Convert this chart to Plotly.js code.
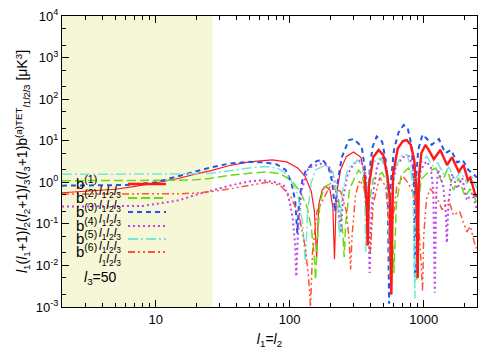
<!DOCTYPE html>
<html>
<head>
<meta charset="utf-8">
<script src="https://cdn.plot.ly/plotly-3.0.1.min.js"></script>
<style>html,body{margin:0;padding:0;background:#fff}</style>
</head>
<body>
<div id="chart" style="width:500px;height:350px"></div>
<script>
// values: l1=l2 and |l1(l1+1)l2(l2+1)l3(l3+1) b| in uK^3
const l_b1 = [2, 3, 5, 7, 10, 15, 20, 26, 35, 50, 74, 95, 115, 131, 145, 153, 159, 165, 175, 186, 200, 210, 216, 223, 240, 265, 300, 340, 362, 376, 382, 390, 420, 461, 500, 535, 560, 574, 590, 640, 700, 747, 800, 850, 885, 902, 920, 960, 1030, 1090, 1190, 1331, 1494, 1627, 1824, 1983, 2137, 2230, 2430, 2500];
const v_b1 = [0.56, 0.6, 0.68, 0.8, 0.96, 1.25, 1.6, 1.9, 2.5, 3.1, 3.45, 3.1, 2.2, 1.36, 0.6, 0.2, 0.015, 0.3, 0.65, 0.8, 0.65, 0.25, 0.014, 0.5, 2.0, 4.2, 5.35, 4.0, 1.5, 0.3, 0.03, 0.8, 4.0, 6.0, 4.5, 1.5, 0.4, 0.002, 1.5, 6.5, 9.8, 10.4, 8.0, 3.5, 0.6, 0.005, 1.2, 5.0, 7.9, 6.0, 3.6, 6.0, 2.6, 4.0, 1.8, 2.6, 1.13, 1.3, 0.5, 0.45];

const l_b2 = [2, 5, 10, 15, 20, 26, 35, 50, 68, 85, 102, 120, 135, 145, 152, 156, 160, 168, 180, 202, 225, 240, 250, 255, 262, 280, 327, 350, 370, 382, 392, 420, 490, 540, 575, 600, 625, 680, 770, 830, 870, 890, 910, 960, 1090, 1230, 1370, 1500, 1670, 1820, 2040, 2230, 2500];
const v_b2 = [1.09, 1.09, 1.1, 1.12, 1.15, 1.25, 1.45, 1.65, 1.77, 1.6, 1.13, 0.6, 0.25, 0.08, 0.02, 0.0045, 0.03, 0.3, 0.77, 0.93, 0.6, 0.2, 0.05, 0.016, 0.1, 0.7, 2.0, 1.4, 0.4, 0.03, 0.3, 1.2, 1.7, 0.9, 0.2, 0.0065, 0.3, 1.5, 2.2, 1.5, 0.5, 0.0045, 0.3, 1.2, 1.8, 2.2, 1.0, 2.0, 0.65, 1.27, 0.45, 0.7, 0.32];

const l_b3 = [2, 6, 10, 15, 20, 26, 35, 50, 65, 80, 93, 103, 110, 114, 118, 125, 131, 150, 175, 195, 208, 218, 228, 245, 276, 300, 345, 365, 382, 395, 415, 446, 490, 520, 540, 552, 565, 600, 650, 710, 760, 810, 845, 860, 875, 910, 980, 1060, 1150, 1300, 1450, 1600, 1780, 1950, 2150, 2430, 2500];
const v_b3 = [0.83, 0.86, 1.0, 1.4, 1.85, 2.3, 2.8, 3.1, 3.0, 2.7, 2.0, 1.0, 0.35, 0.06, 0.4, 1.2, 1.8, 3.0, 3.57, 2.3, 1.0, 0.2, 1.0, 4.0, 10.4, 11, 7.2, 2.0, 0.06, 2.0, 7.0, 12.7, 9.5, 3.5, 0.6, 0.0012, 0.8, 6.0, 16, 24, 20, 8, 1.2, 0.005, 1.0, 6.0, 14, 11, 8, 11, 5, 6, 3, 3.5, 2, 1.4, 1.3];

const l_b4 = [2, 5, 8, 10, 15, 20, 26, 35, 50, 62, 78, 90, 98, 105, 110, 112, 115, 122, 138, 170, 195, 215, 230, 240, 250, 270, 300, 340, 370, 385, 395, 410, 450, 490, 530, 550, 562, 575, 620, 700, 776, 830, 870, 885, 893, 905, 950, 1050, 1130, 1180, 1210, 1240, 1280, 1400, 1460, 1490, 1530, 1630, 1780, 1940, 2100, 2300, 2500];
const v_b4 = [0.26, 0.26, 0.27, 0.3, 0.37, 0.5, 0.62, 0.82, 1.05, 1.13, 1.0, 0.85, 0.45, 0.15, 0.03, 0.0054, 0.05, 0.6, 2.2, 2.8, 2.5, 1.2, 0.3, 0.06, 0.4, 1.5, 2.8, 3.4, 1.5, 0.2, 0.0066, 0.3, 2.5, 4.2, 2.0, 0.5, 0.02, 0.5, 2.5, 4.0, 4.2, 2.5, 0.5, 0.05, 0.0065, 0.3, 2.0, 3.2, 2.3, 0.6, 0.0022, 0.5, 2.0, 0.8, 0.2, 0.035, 0.3, 1.6, 0.7, 1.27, 0.37, 0.55, 0.22];

const l_b5 = [2, 5, 10, 15, 20, 26, 35, 50, 65, 80, 90, 102, 115, 125, 131, 136, 145, 156, 186, 210, 225, 235, 245, 270, 320, 350, 362, 370, 380, 400, 440, 480, 520, 545, 560, 575, 620, 690, 750, 800, 835, 860, 880, 930, 1050, 1170, 1280, 1400, 1540, 1720, 1890, 2100, 2280, 2500];
const v_b5 = [1.55, 1.55, 1.55, 1.56, 1.6, 1.65, 1.9, 2.2, 2.4, 2.2, 1.8, 1.13, 0.5, 0.1, 0.011, 0.2, 1.0, 2.0, 2.6, 1.8, 0.6, 0.05, 0.5, 2.0, 3.4, 2.5, 0.8, 0.02, 0.6, 2.0, 3.5, 3.8, 2.0, 0.5, 0.005, 0.5, 2.5, 4.5, 4.6, 2.5, 0.4, 0.0016, 0.5, 2.5, 4.2, 2.5, 2.9, 1.6, 2.3, 1.2, 1.8, 0.95, 1.4, 0.7];

const l_b6 = [2, 5, 10, 15, 20, 26, 38, 55, 68, 85, 102, 118, 130, 138, 143, 148, 160, 200, 240, 265, 278, 285, 292, 310, 334, 360, 380, 400, 420, 470, 520, 550, 568, 585, 630, 700, 760, 850, 920, 960, 980, 1000, 1050, 1120, 1250, 1370, 1540, 1670, 1850, 2100, 2230, 2450, 2500];
const v_b6 = [0.52, 0.52, 0.52, 0.53, 0.55, 0.6, 0.72, 0.9, 1.0, 0.85, 0.45, 0.15, 0.03, 0.006, 0.001, 0.02, 0.2, 0.8, 0.6, 0.2, 0.04, 0.008, 0.05, 0.5, 1.13, 0.7, 0.2, 0.02, 0.3, 1.3, 0.8, 0.1, 0.0022, 0.1, 0.8, 1.4, 1.0, 0.5, 0.08, 0.01, 0.0024, 0.05, 0.4, 0.7, 0.45, 0.22, 0.37, 0.16, 0.2, 0.064, 0.087, 0.026, 0.028];

const seriesL = [l_b1, l_b2, l_b3, l_b4, l_b5, l_b6];
const seriesV = [v_b1, v_b2, v_b3, v_b4, v_b5, v_b6];
const labels = ['(1)', '(2)', '(3)', '(4)', '(5)', '(6)'];
const shadeTo = 26.5;
const thickFrom = 362; // b(1) is drawn heavier from here on

const yTickVals = [1e-3, 1e-2, 1e-1, 1, 10, 100, 1000, 10000];
const yTickText = ['10<sup>-3</sup>', '10<sup>-2</sup>', '10<sup>-1</sup>', '10<sup>0</sup>', '10<sup>1</sup>', '10<sup>2</sup>', '10<sup>3</sup>', '10<sup>4</sup>'];
const xTickVals = [10, 100, 1000];
const xTickText = ['10', '100', '1000'];

const colors = ['#ff1a1a', '#66dd11', '#2255ee', '#bb44ee', '#77e6d6', '#ff5533'];
const dashes = ['solid', '9px,4px', '5px,4px', '2px,3px', '10px,3px,2px,3px', '7px,3px,2px,3px,2px,3px'];
const widths = [1.2, 1.5, 2, 2, 1.5, 1.5];

// plot box in pixels
const W = 500, H = 350, ml = 62, mr = 23, mt = 16, mb = 43;
const px = x => (x - ml) / (W - ml - mr);
const py = y => (H - mb - y) / (H - mt - mb);

// minor tick positions: 2..9 per decade on x, 2 and 5 on y
const xMinor = [], yMinor = [];
for (let e = 0; e <= 3; e++) for (let m = 2; m <= 9; m++) xMinor.push(m * 10 ** e);
for (let e = -3; e <= 3; e++) { yMinor.push(2 * 10 ** e); yMinor.push(5 * 10 ** e); }

const sub123 = '<i>l</i><sub>1</sub><i>l</i><sub>2</sub><i>l</i><sub>3</sub>';
const font = {family: 'Liberation Sans, Arial, sans-serif', size: 13, color: '#000'};

const data = seriesL.map((l, i) => ({
    x: l,
    y: seriesV[i],
    type: 'scatter',
    mode: 'lines',
    line: {color: colors[i], dash: dashes[i], width: widths[i]},
    showlegend: false,
    hoverinfo: 'skip'
}));
const keep = l_b1.map(l => l >= thickFrom);
data.push({
    x: l_b1.filter((_, k) => keep[k]),
    y: v_b1.filter((_, k) => keep[k]),
    type: 'scatter', mode: 'lines',
    line: {color: colors[0], width: 2.4},
    showlegend: false, hoverinfo: 'skip'
});

const sampleY = [184, 198, 212, 226, 239, 252];
const shapes = [{
    type: 'rect', xref: 'x', yref: 'paper',
    x0: 2, x1: shadeTo, y0: 0, y1: 1,
    fillcolor: '#f6f7d7', line: {width: 0}, layer: 'below'
}];
const annotations = [];
sampleY.forEach((y, i) => {
    shapes.push({
        type: 'line', xref: 'paper', yref: 'paper',
        x0: px(128), x1: px(166), y0: py(y), y1: py(y),
        line: {color: colors[i], dash: dashes[i], width: i === 0 ? 2.6 : Math.max(widths[i], 2)}
    });
    annotations.push({
        xref: 'paper', yref: 'paper', x: px(74), y: py(y - 2),
        xanchor: 'left', yanchor: 'middle', showarrow: false,
        text: 'b<sup>' + labels[i] + '</sup>',
        font: {family: font.family, size: 15, color: '#000'}
    });
    annotations.push({
        xref: 'paper', yref: 'paper', x: px(97), y: py(y + 8),
        xanchor: 'left', yanchor: 'middle', showarrow: false,
        text: sub123,
        font: {family: font.family, size: 12, color: '#000'}
    });
});
annotations.push({
    xref: 'paper', yref: 'paper', x: px(82), y: py(278),
    xanchor: 'left', yanchor: 'middle', showarrow: false,
    text: '<i>l</i><sub>3</sub>=50',
    font: {family: font.family, size: 14, color: '#000'}
});

const axisCommon = {
    type: 'log',
    showline: true, linecolor: '#000', linewidth: 1,
    mirror: 'allticks', ticks: 'inside', ticklen: 7, tickcolor: '#000',
    showgrid: false, zeroline: false,
    tickfont: font
};

const layout = {
    width: W, height: H,
    margin: {l: ml, r: mr, t: mt, b: mb},
    paper_bgcolor: '#fff', plot_bgcolor: '#fff',
    font: font,
    xaxis: Object.assign({}, axisCommon, {
        range: [Math.log10(2), Math.log10(2500)],
        tickmode: 'array', tickvals: xTickVals, ticktext: xTickText,
        minor: {tickmode: 'array', tickvals: xMinor, ticks: 'inside', ticklen: 4, tickcolor: '#000', showgrid: false},
        title: {text: '<i>l</i><sub>1</sub>=<i>l</i><sub>2</sub>', font: {family: font.family, size: 14}, standoff: 8}
    }),
    yaxis: Object.assign({}, axisCommon, {
        range: [-3, 4],
        tickmode: 'array', tickvals: yTickVals, ticktext: yTickText,
        minor: {tickmode: 'array', tickvals: yMinor, ticks: 'inside', ticklen: 4, tickcolor: '#000', showgrid: false},
        title: {
            text: '<i>l</i><sub>1</sub>(<i>l</i><sub>1</sub>+1)<i>l</i><sub>2</sub>(<i>l</i><sub>2</sub>+1)<i>l</i><sub>3</sub>(<i>l</i><sub>3</sub>+1)b<sup>(a)TET</sup><sub><i>l</i>1<i>l</i>2<i>l</i>3</sub> [μK<sup>3</sup>]',
            font: {family: font.family, size: 14}, standoff: 4
        }
    }),
    shapes: shapes,
    annotations: annotations
};

Plotly.newPlot('chart', data, layout, {staticPlot: true});
</script>
</body>
</html>
